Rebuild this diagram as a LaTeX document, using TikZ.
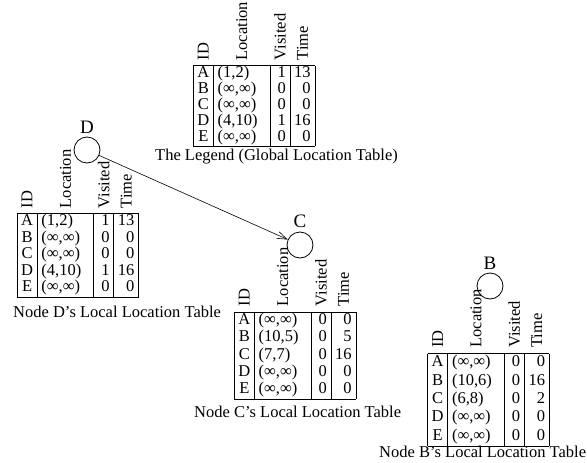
\documentclass[tikz,border=0pt]{standalone}
\usepackage{fontspec}
\setmainfont{Liberation Serif}
\usepackage{graphicx}
\usetikzlibrary{arrows.meta}

\setlength{\tabcolsep}{4.2pt}
\setlength{\arrayrulewidth}{0.8pt}
\newcommand{\lochead}{%
  \multicolumn{1}{c}{\rotatebox{90}{ID}} &
  \multicolumn{1}{c}{\rotatebox{90}{Location}} &
  \multicolumn{1}{c}{\rotatebox{90}{Visited}} &
  \multicolumn{1}{c}{\rotatebox{90}{Time}}\\ \hline}

\begin{document}
\begin{tikzpicture}[x=1pt,y=1pt,
    every node/.style={font=\fontsize{16.5}{17}\selectfont},
    sensor/.style={shape=circle,draw=black,line width=0.8pt,minimum size=26pt,inner sep=0pt,
      label={[font=\fontsize{19}{19}\selectfont]above:#1}},
    loctable/.style={inner sep=0pt,anchor=south west},
    tabcaption/.style={inner sep=0pt,anchor=west}]
        \useasboundingbox (0,0) rectangle (587,-463);

        \node[sensor=D] (D) at (87,-150) {};
        \node[sensor=C] (C) at (300,-245) {};
        \node[sensor=B] (B) at (490,-286) {};

        \node[loctable] (legend) at (193,-147) {\def\arraystretch{0.9}%
          \begin{tabular}{|c|p{48pt}|r|r|}
          \lochead
          A & (1,2) & 1 & 13\\
          B & (∞,∞) & 0 & 0\\
          C & (∞,∞) & 0 & 0\\
          D & (4,10) & 1 & 16\\
          E & (∞,∞) & 0 & 0\\ \hline
          \end{tabular}};
        \node[tabcaption] (legend-cap) at (155,-157) {The Legend (Global Location Table)};

        \node[loctable] (table-D) at (16.7,-297.5) {\def\arraystretch{0.97}%
          \begin{tabular}{|c|p{48pt}|r|r|}
          \lochead
          A & (1,2) & 1 & 13\\
          B & (∞,∞) & 0 & 0\\
          C & (∞,∞) & 0 & 0\\
          D & (4,10) & 1 & 16\\
          E & (∞,∞) & 0 & 0\\ \hline
          \end{tabular}};
        \node[tabcaption] (cap-D) at (13,-312) {Node D’s Local Location Table};

        \node[loctable] (table-C) at (234,-400) {\def\arraystretch{1.02}%
          \begin{tabular}{|c|p{48pt}|r|r|}
          \lochead
          A & (∞,∞) & 0 & 0\\
          B & (10,5) & 0 & 5\\
          C & (7,7) & 0 & 16\\
          D & (∞,∞) & 0 & 0\\
          E & (∞,∞) & 0 & 0\\ \hline
          \end{tabular}};
        \node[tabcaption] (cap-C) at (194,-412) {Node C’s Local Location Table};

        \node[loctable] (table-B) at (427.3,-446.7) {\def\arraystretch{1.08}%
          \begin{tabular}{|c|p{48pt}|r|r|}
          \lochead
          A & (∞,∞) & 0 & 0\\
          B & (10,6) & 0 & 16\\
          C & (6,8) & 0 & 2\\
          D & (∞,∞) & 0 & 0\\
          E & (∞,∞) & 0 & 0\\ \hline
          \end{tabular}};
        \node[tabcaption] (cap-B) at (379,-452) {Node B’s Local Location Table};

        \draw[line width=0.6pt,-{Straight Barb[length=10pt,width=7pt]}] (D) -- (C);
\end{tikzpicture}
\end{document}
